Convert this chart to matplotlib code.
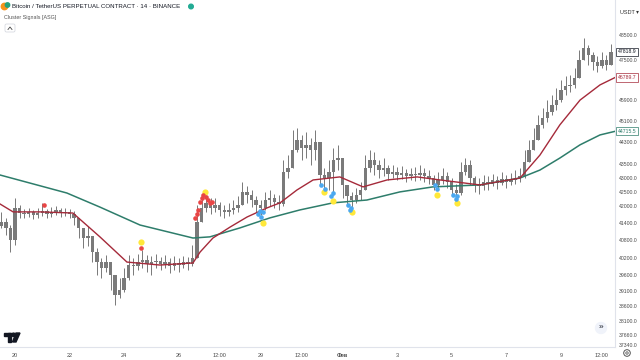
import numpy as np
import matplotlib.pyplot as plt
from matplotlib.ticker import NullLocator, NullFormatter
from matplotlib.patches import Circle, Rectangle, Polygon, FancyBboxPatch

plt.rcParams['font.family'] = ['Liberation Sans', 'DejaVu Sans']

# 4-hour candles, BTCUSDT perp, from Jan 19 12:00
t_start = 19.5
step = 1 / 6
first_open = 41300
closes = [41430, 41220, 40800, 41920, 41740, 41710, 41780, 41670, 41740, 41810,
          41710, 41780, 41850, 41740, 41780, 41710, 41570, 41220, 40870, 40940,
          40390, 40050, 39850, 40050, 39620, 38960, 39120, 39520, 39950, 39920,
          40050, 40120, 39990, 40050, 40090, 39990, 40050, 39920, 40020, 39950,
          40050, 39990, 40190, 41430, 41920, 42100, 41920, 42030, 41850, 41780,
          41850, 41920, 42030, 42490, 42380, 42200, 42030, 41920, 42200, 42270,
          42130, 42060, 43210, 43360, 44020, 44390, 44090, 44210, 44020, 44320,
          43100, 42990, 43210, 43650, 43720, 42740, 42350, 42200, 42380, 42560,
          43360, 43650, 43470, 43280, 43360, 43140, 43210, 43100, 43170, 43070,
          43140, 43100, 43170, 43070, 42990, 42740, 42920, 43070, 42850, 42560,
          42450, 43210, 43470, 42990, 42740, 42700, 42850, 42780, 42920, 42810,
          42960, 42850, 42920, 42990, 43070, 43580, 44020, 44390, 44960, 45220,
          45450, 45720, 45910, 46300, 46460, 46500, 46770, 47490, 47970, 47690,
          47410, 47250, 47490, 47290, 47818.9]
highs = [41780, 41570, 41320, 42270, 42030, 41880, 41920, 41850, 41920, 42100,
         41880, 41950, 41990, 41920, 41920, 41880, 41810, 41570, 41220, 41290,
         40950, 40530, 40190, 40290, 40050, 39450, 39520, 39850, 40290, 40190,
         40320, 40460, 40290, 40260, 40320, 40220, 40290, 40190, 40260, 40190,
         40260, 40220, 40630, 42030, 42350, 42380, 42270, 42270, 42130, 42030,
         42100, 42200, 42350, 42850, 42700, 42560, 42350, 42200, 42490, 42560,
         42420, 42380, 43650, 43830, 44770, 44840, 44580, 44690, 44470, 44770,
         44210, 43360, 43650, 44090, 44210, 43470, 42630, 42490, 42630, 42850,
         43830, 44020, 43950, 43650, 43720, 43470, 43470, 43390, 43430, 43320,
         43360, 43390, 43470, 43360, 43280, 43100, 43210, 43360, 43210, 42990,
         42780, 43580, 43720, 43650, 43070, 42990, 43100, 43070, 43140, 43070,
         43210, 43100, 43170, 43280, 43360, 44020, 44390, 44840, 45340, 45610,
         45910, 46110, 46380, 46700, 46850, 46890, 47170, 47890, 48380, 48090,
         47810, 47650, 47810, 47690, 48130]
lows = [41220, 40980, 40390, 40630, 41570, 41570, 41600, 41530, 41570, 41640,
        41570, 41600, 41670, 41600, 41640, 41570, 41320, 40870, 40530, 40600,
        40050, 39620, 39520, 39720, 39120, 38630, 38860, 39050, 39450, 39620,
        39780, 39850, 39720, 39620, 39850, 39780, 39850, 39680, 39780, 39720,
        39850, 39780, 39920, 40290, 41430, 41780, 41710, 41780, 41640, 41570,
        41640, 41710, 41780, 42030, 42100, 41950, 41780, 41670, 41850, 41990,
        41920, 41850, 41990, 42990, 43650, 43950, 43650, 43720, 43470, 43650,
        42740, 42630, 42560, 42380, 43280, 42270, 42030, 41950, 42100, 42200,
        42560, 43210, 43100, 42990, 43070, 42920, 42990, 42920, 42960, 42850,
        42920, 42880, 42920, 42850, 42780, 42560, 42630, 42780, 42630, 42380,
        42270, 42380, 43100, 42740, 42490, 42420, 42560, 42560, 42700, 42600,
        42740, 42630, 42740, 42780, 42850, 42990, 43580, 44020, 44470, 44840,
        45070, 45340, 45530, 45840, 46110, 46230, 46380, 46770, 47570, 47290,
        47090, 47010, 47170, 47090, 47490]

# moving averages (day of Jan, price)
fast_t = [19.45, 19.93, 20.92, 22.12, 23.11, 24.10, 25.31, 26.52, 26.78, 27.25,
          27.88, 28.50, 29.23, 29.71, 30.33, 30.92, 31.90, 32.75, 33.63, 34.73,
          35.57, 37.03, 38.50, 39.23, 39.96, 40.70, 41.43, 41.98]
fast_ma = [42060, 41780, 41780, 41740, 40910, 40050, 39950, 40020, 40390, 40870,
           41250, 41600, 41920, 42100, 42560, 42920, 43030, 42670, 42920, 43030,
           42920, 42740, 42990, 43830, 44960, 45910, 46500, 46789.7]
slow_t = [19.45, 21.90, 23.11, 24.58, 26.52, 27.14, 28.24, 29.34, 30.44, 31.65,
          32.89, 34.10, 35.31, 37.03, 38.50, 39.23, 39.96, 40.70, 41.43, 41.98]
slow_ma = [43100, 42450, 41950, 41320, 40870, 40910, 41220, 41570, 41850, 42100,
           42200, 42490, 42670, 42740, 42990, 43280, 43720, 44210, 44580, 44715.5]

# cluster signal dots
red_t = [21.06, 24.62, 26.59, 26.67, 26.70, 26.78, 26.85, 26.89, 27.00, 27.07, 27.14, 27.22]
red_p = [42030, 40530, 41570, 41710, 41850, 42130, 42270, 42380, 42310, 42200, 42100, 42130]
yel_t = [24.62, 26.96, 29.08, 31.32, 31.65, 32.34, 35.46, 36.19]
yel_p = [40730, 42490, 41390, 42490, 42170, 41780, 42380, 42100]
blue_t = [28.90, 29.01, 29.08, 28.97, 31.21, 31.36, 31.58, 31.65, 32.20, 32.31,
          32.27, 35.38, 35.46, 36.04, 36.15, 36.19]
blue_p = [41710, 41600, 41780, 41810, 42740, 42600, 42350, 42450, 42030, 41920,
          41850, 42740, 42600, 42380, 42240, 42350]

price_ticks = [48500, 47500, 45900, 45100, 44300, 43500, 43000, 42500, 42000,
               41400, 40800, 40200, 39600, 39100, 38600, 38100, 37660, 37340]
date_ticks = [20, 22, 24, 26, 27.5, 29, 30.5, 32, 34, 36, 38, 40, 41.5]
date_labels = ['20', '22', '24', '26', '12:00', '29', '12:00', 'Фев', '3', '5', '7', '9', '12:00']

fig = plt.figure(figsize=(6.4, 3.6), dpi=100)
ax = fig.add_axes([0, 13 / 360, 615 / 640, 347 / 360])
ax.set_yscale('log')

t = t_start + np.arange(len(closes)) * step
c = np.array(closes, dtype=float)
o = np.array([first_open] + closes[:-1], dtype=float)
hi = np.maximum(np.array(highs, dtype=float), np.maximum(o, c))
lo = np.minimum(np.array(lows, dtype=float), np.minimum(o, c))
ax.vlines(t, lo, hi, color='#555555', lw=0.55, zorder=2)
ax.bar(t, c - o, bottom=o, width=step * 0.75, color='#7a7a7a', zorder=2)

ax.plot(slow_t, slow_ma, color='#2e7d6b', lw=1.1, zorder=3)
ax.plot(fast_t, fast_ma, color='#a52a3a', lw=1.0, zorder=3)

ax.scatter(yel_t, yel_p, s=20, color='#ffe83a', zorder=4, linewidths=0)
ax.scatter(blue_t, blue_p, s=11, color='#4aa8f0', zorder=5, linewidths=0)
ax.scatter(red_t, red_p, s=11, color='#e84545', zorder=5, linewidths=0)

ax.set_xlim(19.45, 41.98)
ax.set_ylim(37283, 49950)

ax.yaxis.tick_right()
ax.set_yticks(price_ticks)
ax.set_yticklabels(['%.1f' % v for v in price_ticks])
ax.yaxis.set_minor_locator(NullLocator())
ax.yaxis.set_minor_formatter(NullFormatter())
ax.tick_params(axis='y', length=0, pad=2.5, labelsize=3.7, labelcolor='#4a4a4a')

ax.set_xticks(date_ticks)
ax.set_xticklabels(date_labels)
ax.tick_params(axis='x', length=0, pad=4, labelsize=4.0, labelcolor='#4a4a4a')
for lab in ax.get_xticklabels():
    if lab.get_text() == 'Фев':
        lab.set_fontweight('bold')

for s in ['top', 'left']:
    ax.spines[s].set_visible(False)
for s in ['right', 'bottom']:
    ax.spines[s].set_color('#e0e3eb')
    ax.spines[s].set_linewidth(0.8)

# last value tags on the price scale
tags = [(47818.9, '#131722'), (46789.7, '#a52a3a'), (44715.5, '#2e7d6b')]
for val, col in tags:
    ax.text(1.004, val, '%.1f' % val, transform=ax.get_yaxis_transform(),
            fontsize=3.7, color=col, va='center', ha='left', clip_on=False,
            bbox=dict(boxstyle='square,pad=0.3', fc='white', ec=col, lw=0.5))

# overlay for chart chrome (pixel coords)
ov = fig.add_axes([0, 0, 1, 1], zorder=10)
ov.set_xlim(0, 640)
ov.set_ylim(360, 0)
ov.axis('off')
ov.patch.set_alpha(0)

ov.add_patch(Circle((4.5, 6.5), 3.2, color='#f7931a'))
ov.add_patch(Circle((7.5, 5), 2.2, color='#26a17b'))
ov.text(12, 6.5, 'Bitcoin / TetherUS PERPETUAL CONTRACT · 14 · BINANCE',
        fontsize=4.4, color='#131722', va='center', ha='left')
ov.add_patch(Circle((191, 6.5), 2.3, color='#22ab94'))
ov.text(4, 17.5, 'Cluster Signals [ASG]', fontsize=3.9, color='#555555', va='center', ha='left')
ov.add_patch(FancyBboxPatch((5, 24), 10, 8, boxstyle='round,pad=0,rounding_size=1.5',
                            fc='white', ec='#d0d3db', lw=0.5))
ov.plot([8, 10, 12], [29.5, 27, 29.5], color='#444444', lw=0.6)

ov.text(620, 13, 'USDT ▾', fontsize=4.0, color='#333333', va='center', ha='left')

# TradingView logo
ov.add_patch(Rectangle((4, 333), 7, 3, color='#131722'))
ov.add_patch(Rectangle((7.5, 333), 3.5, 9, color='#131722'))
ov.add_patch(Circle((13.5, 334.8), 1.7, color='#131722'))
ov.add_patch(Polygon([(16, 333), (20, 333), (16, 342), (12.5, 342)], color='#131722'))

ov.add_patch(Circle((601, 328), 5.5, color='#f0f3fa'))
ov.text(601, 328, '»', fontsize=6, color='#131722', va='center', ha='center')
ov.add_patch(Circle((627, 353), 3.3, fill=False, ec='#555555', lw=0.7))
ov.add_patch(Circle((627, 353), 1.2, fill=False, ec='#555555', lw=0.6))

fig.savefig('out.png', dpi=100)
